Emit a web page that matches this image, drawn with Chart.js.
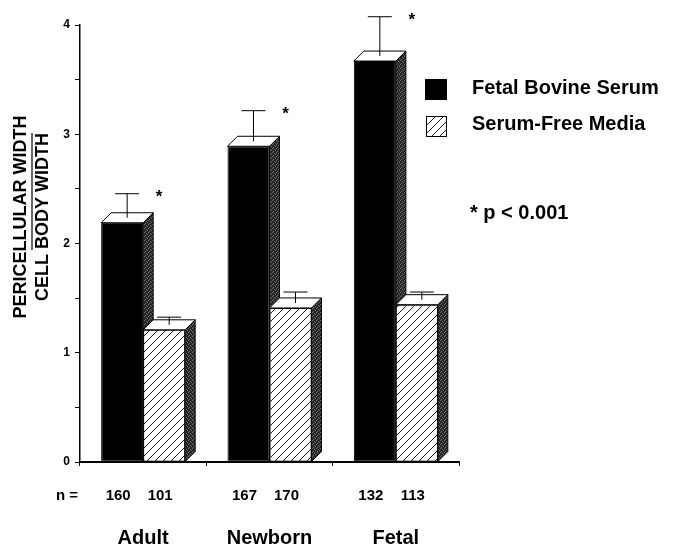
<!DOCTYPE html>
<html>
<head>
<meta charset="utf-8">
<script src="https://cdn.jsdelivr.net/npm/chart.js@4.4.1/dist/chart.umd.min.js"></script>
<style>
  html, body { margin: 0; padding: 0; background: #fff; }
</style>
</head>
<body>
<canvas id="chart" width="673" height="557"></canvas>
<script>
const groups = ['Adult', 'Newborn', 'Fetal'];
const seriesNames = ['Fetal Bovine Serum', 'Serum-Free Media'];
const fbsValues = [2.19, 2.89, 3.67];
const sfmValues = [1.21, 1.41, 1.44];
const fbsErrors = [0.22, 0.28, 0.36];
const sfmErrors = [0.07, 0.10, 0.07];
const fbsCounts = [160, 167, 132];
const sfmCounts = [101, 170, 113];
const yTitle = ['PERICELLULAR WIDTH', 'CELL BODY WIDTH'];
const pNote = '* p < 0.001';

const FONT = "'Liberation Sans', Arial, Helvetica, sans-serif";
const depth = 10;

const ctx = document.getElementById('chart').getContext('2d');

// diagonal "/" hatching for serum-free bars
function makeHatch() {
    const c = document.createElement('canvas');
    c.width = 8; c.height = 8;
    const g = c.getContext('2d');
    g.fillStyle = '#fff';
    g.fillRect(0, 0, 8, 8);
    g.strokeStyle = '#000';
    g.lineWidth = 0.9;
    g.beginPath();
    g.moveTo(0, 8); g.lineTo(8, 0);
    g.moveTo(-1, 1); g.lineTo(1, -1);
    g.moveTo(7, 9); g.lineTo(9, 7);
    g.stroke();
    return ctx.createPattern(c, 'repeat');
}

// grainy dark grey for the side faces
function makeStipple() {
    const c = document.createElement('canvas');
    c.width = 4; c.height = 4;
    const g = c.getContext('2d');
    g.fillStyle = '#262626';
    g.fillRect(0, 0, 4, 4);
    g.fillStyle = '#6e6e6e';
    [[0, 0], [2, 1], [1, 3], [3, 2]].forEach(([x, y]) => g.fillRect(x, y, 1, 1));
    return ctx.createPattern(c, 'repeat');
}

const hatch = makeHatch();
const stipple = makeStipple();

const boxPlugin = {
    id: 'boxes',
    afterDatasetsDraw(chart) {
        const c = chart.ctx;
        const yScale = chart.scales.y;
        const metas = [chart.getDatasetMeta(0), chart.getDatasetMeta(1)];
        const values = [fbsValues, sfmValues];
        const errors = [fbsErrors, sfmErrors];
        c.save();
        c.strokeStyle = '#000';
        c.lineWidth = 1;
        groups.forEach((g, i) => {
            metas.forEach((meta, k) => {
                const bar = meta.data[i];
                if (k === 1) bar.draw(c); // cover the black bar's side face
                const p = bar.getProps(['x', 'y', 'base', 'width'], true);
                const l = p.x - p.width / 2;
                const r = p.x + p.width / 2;

                // side face
                c.beginPath();
                c.moveTo(r, p.y);
                c.lineTo(r + depth, p.y - depth);
                c.lineTo(r + depth, p.base - depth);
                c.lineTo(r, p.base);
                c.closePath();
                c.fillStyle = stipple;
                c.fill();
                c.stroke();

                // top face
                c.beginPath();
                c.moveTo(l, p.y);
                c.lineTo(l + depth, p.y - depth);
                c.lineTo(r + depth, p.y - depth);
                c.lineTo(r, p.y);
                c.closePath();
                c.fillStyle = '#fff';
                c.fill();
                c.stroke();

                // error bar in the middle plane of the box
                const cx = p.x + depth / 2;
                const cy = p.y - depth / 2;
                const ey = yScale.getPixelForValue(values[k][i] + errors[k][i]) - depth / 2;
                c.beginPath();
                c.moveTo(cx, cy);
                c.lineTo(cx, ey);
                c.moveTo(cx - 12, ey);
                c.lineTo(cx + 12, ey);
                c.stroke();

                if (k === 0) {
                    c.fillStyle = '#000';
                    c.font = 'bold 17px ' + FONT;
                    c.textAlign = 'center';
                    c.textBaseline = 'middle';
                    c.fillText('*', r + 16, ey + 4);
                }
            });
        });
        c.restore();
    },
    afterDraw(chart) {
        const c = chart.ctx;
        const metas = [chart.getDatasetMeta(0), chart.getDatasetMeta(1)];
        const counts = [fbsCounts, sfmCounts];
        c.save();
        c.fillStyle = '#000';
        c.textBaseline = 'middle';

        // n = row
        c.font = 'bold 15px ' + FONT;
        c.textAlign = 'right';
        c.fillText('n =', 78, 496);
        c.textAlign = 'center';
        groups.forEach((g, i) => {
            metas.forEach((meta, k) => {
                c.fillText(String(counts[k][i]), meta.data[i].x - 4, 496);
            });
        });

        // y axis title, written as a fraction
        c.save();
        c.translate(0, 217);
        c.rotate(-Math.PI / 2);
        c.font = 'bold 18px ' + FONT;
        c.textAlign = 'center';
        c.fillText(yTitle[0], 0, 21);
        c.fillText(yTitle[1], 0, 43);
        c.restore();
        c.lineWidth = 1.2;
        c.beginPath();
        c.moveTo(32, 133);
        c.lineTo(32, 250);
        c.stroke();

        // legend
        c.fillRect(425, 79, 22, 21);
        c.fillStyle = hatch;
        c.fillRect(426, 116, 20, 20);
        c.strokeStyle = '#000';
        c.lineWidth = 1;
        c.strokeRect(426.5, 116.5, 20, 20);
        c.fillStyle = '#000';
        c.font = 'bold 20px ' + FONT;
        c.textAlign = 'left';
        c.fillText(seriesNames[0], 472, 88);
        c.fillText(seriesNames[1], 472, 124);
        c.fillText(pNote, 470, 213);
        c.restore();
    }
};

new Chart(ctx, {
    type: 'bar',
    data: {
        labels: groups,
        datasets: [{
            label: seriesNames[0],
            data: fbsValues,
            backgroundColor: '#000',
            borderColor: '#000',
            borderWidth: 1,
            borderSkipped: false
        }, {
            label: seriesNames[1],
            data: sfmValues,
            backgroundColor: hatch,
            borderColor: '#000',
            borderWidth: 1,
            borderSkipped: false
        }]
    },
    options: {
        responsive: false,
        animation: false,
        devicePixelRatio: 1,
        datasets: {
            bar: { categoryPercentage: 0.665, barPercentage: 1 }
        },
        layout: { padding: { top: 25, right: 214, left: 0, bottom: 0 } },
        plugins: {
            legend: { display: false },
            tooltip: { enabled: false }
        },
        scales: {
            x: {
                grid: { drawOnChartArea: false, tickLength: 4, color: '#000', lineWidth: 1 },
                border: { color: '#000', width: 2 },
                ticks: { color: '#000', padding: 60, font: { family: FONT, size: 20, weight: 'bold' } },
                afterFit: (s) => { s.height = 95; }
            },
            y: {
                min: 0,
                max: 4,
                grid: { drawOnChartArea: false, tickLength: 5, color: '#000', lineWidth: 1 },
                border: { color: '#000', width: 1.5 },
                ticks: {
                    stepSize: 0.5,
                    color: '#000',
                    padding: 5,
                    font: { family: FONT, size: 12, weight: 'bold' },
                    callback: (v) => Number.isInteger(v) ? String(v) : ''
                },
                afterFit: (s) => { s.width = 80; }
            }
        }
    },
    plugins: [boxPlugin]
});
</script>
</body>
</html>
